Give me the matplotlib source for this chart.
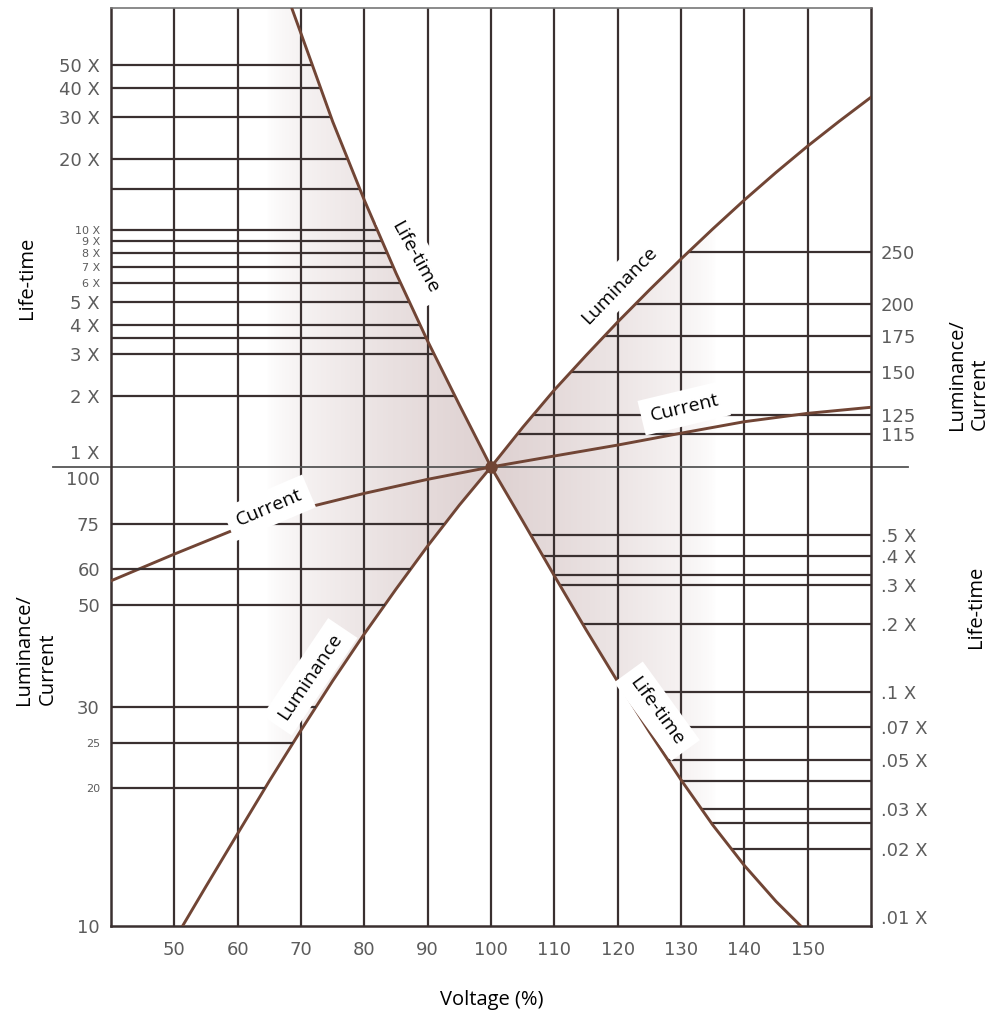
import numpy as np
import matplotlib
matplotlib.use("Agg")
import matplotlib.pyplot as plt
from matplotlib.ticker import NullLocator

# ======= values ===========================
volt_grid = [50, 60, 70, 80, 90, 100, 110, 120, 130, 140, 150]
volt_labels = [str(v) for v in volt_grid]

# life-time (x rated life) vs voltage (%)
life_volt = [68.6, 70, 75, 80, 85, 90, 95, 100,
             105, 110, 115, 120, 125, 130, 135, 140, 145, 148.9]
life_val = [86, 67.8, 28.8, 13.4, 6.59, 3.40, 1.83, 1.0,
            0.575, 0.328, 0.189, 0.111, 0.0664, 0.0406, 0.0256, 0.0169, 0.0117, 0.0091]

# luminance (%) vs voltage (%)
lum_volt = [51.3, 55, 60, 65, 70, 75, 80, 85, 90, 95, 100,
            105, 110, 115, 120, 125, 130, 135, 140, 145, 150, 155, 160]
lum_val = [10, 12.2, 15.9, 20.7, 26.7, 34.2, 43.3, 54.2, 67.3, 82.6, 100,
           118.4, 138.9, 160.9, 185.6, 212.7, 242.8, 275.9, 312.2, 351.2, 393, 437, 484]

# current (%) vs voltage (%)
cur_volt = [40, 50, 60, 70, 80, 90, 100, 110, 120, 130, 140, 150, 160]
cur_val = [56.5, 64.6, 73.5, 81, 87.6, 94, 100, 104.8, 109.8, 115.5, 121.3, 125.7, 129]

# horizontal guide lines (they run from the axis edge to the curve)
life_hi_lines = [50, 40, 30, 20, 15, 10, 9, 8, 7, 6, 5, 4, 3.5, 3, 2]
life_lo_lines = [0.5, 0.4, 0.33, 0.3, 0.2, 0.1, 0.07, 0.05, 0.04, 0.03, 0.026, 0.02]
lum_hi_lines = [250, 200, 175, 150, 125, 115]
lum_lo_lines = [75, 60, 50, 30, 25, 20]

# labelled ticks
life_hi_ticks = [50, 40, 30, 20, 10, 9, 8, 7, 6, 5, 4, 3, 2]
life_hi_labels = ["50 X", "40 X", "30 X", "20 X", "10 X", "9 X", "8 X", "7 X", "6 X",
                  "5 X", "4 X", "3 X", "2 X"]
life_lo_ticks = [0.5, 0.4, 0.3, 0.2, 0.1, 0.07, 0.05, 0.03, 0.02, 0.01]
life_lo_labels = [".5 X", ".4 X", ".3 X", ".2 X", ".1 X", ".07 X", ".05 X", ".03 X", ".02 X", ".01 X"]
lum_hi_ticks = [250, 200, 175, 150, 125, 115]
lum_lo_ticks = [75, 60, 50, 30, 25, 20, 10]
small_life = {"10 X", "9 X", "8 X", "7 X", "6 X"}
small_lum = {"25", "20"}


# ======= split log scale: decade length differs above / below the 100 % line ========
def split_log(bot, mid, top):
    lb, lm, lt = np.log10(bot), np.log10(mid), np.log10(top)

    def fwd(v):
        with np.errstate(divide="ignore", invalid="ignore"):
            l = np.log10(np.asarray(v, dtype=float))
        return np.where(l >= lm, (l - lm) / (lt - lm), (l - lm) / (lm - lb))

    def inv(t):
        t = np.asarray(t, dtype=float)
        return 10 ** np.where(t >= 0, lm + t * (lt - lm), lm + t * (lm - lb))

    return fwd, inv


LIFE_LIM = (0.0091, 1.0, 87.0)
LUM_LIM = (10.0, 100.0, 708.0)
life_scale = split_log(*LIFE_LIM)
lum_scale = split_log(*LUM_LIM)


def volt_at(value, volts, vals):
    lv = np.log10(vals)
    order = np.argsort(lv)
    return np.interp(np.log10(value), lv[order], np.asarray(volts)[order])


line_col = "#3a3030"
curve_col = "#714535"
tick_col = "#5c5c5c"
title_font = "Open Sans"

fig = plt.figure(figsize=(9.93, 10.11), dpi=100)
ax = fig.add_axes([0.1118, 0.0841, 0.7654, 0.908])
ax_lo = ax.twinx()
ax_lum = ax.twinx()
ax_lum_l = ax.twinx()

for a, sc, lim in [(ax, life_scale, LIFE_LIM), (ax_lo, life_scale, LIFE_LIM),
                   (ax_lum, lum_scale, LUM_LIM), (ax_lum_l, lum_scale, LUM_LIM)]:
    a.set_yscale("function", functions=sc)
    a.set_xlim(40, 160)
    a.set_ylim(lim[0], lim[2])
    a.yaxis.set_minor_locator(NullLocator())
    a.tick_params(length=0, labelsize=13, labelcolor=tick_col)
    for s in a.spines.values():
        s.set_visible(False)

# ---- shaded wedges between each curve and the 100 % line, fading sideways ----
n = 600
U, W = np.meshgrid(np.linspace(0, 1, n), np.linspace(0, 1, n))
x0, x1 = ax.get_xlim()
V = x0 + (x1 - x0) * U
t = 2 * W - 1
life_g = life_scale[1](t)
lum_g = lum_scale[1](t)
life_c = 10 ** np.interp(V, life_volt, np.log10(life_val), left=10, right=-10)
lum_c = 10 ** np.interp(V, lum_volt, np.log10(lum_val), left=-10, right=10)
up, lo, lft, rgt = t > 0, t < 0, V < 100, V > 100
mask = ((lft & up & (life_g <= life_c)) | (rgt & lo & (life_g >= life_c)) |
        (rgt & up & (lum_g <= lum_c)) | (lft & lo & (lum_g >= lum_c)))
cu = (100 - x0) / (x1 - x0)
dx = np.abs(U - cu) * ax.bbox.width
img = np.zeros((n, n, 4))
img[..., :3] = np.array([0.78, 0.69, 0.69])
img[..., 3] = 0.58 * np.clip(1 - dx / 225, 0, 1) ** 0.7 * mask
ax.imshow(img, extent=(0, 1, 0, 1), transform=ax.transAxes, origin="lower",
          aspect="auto", interpolation="bilinear", zorder=0)
ax.set_xlim(40, 160)
ax.set_ylim(LIFE_LIM[0], LIFE_LIM[2])

# ---- grid ----
for v in volt_grid:
    ax.axvline(v, color=line_col, lw=1.6, zorder=1)
ax.hlines(life_hi_lines, 40, volt_at(life_hi_lines, life_volt, life_val), color=line_col, lw=1.6, zorder=1)
ax.hlines(life_lo_lines, volt_at(life_lo_lines, life_volt, life_val), 160, color=line_col, lw=1.6, zorder=1)
ax_lum.hlines(lum_hi_lines, volt_at(lum_hi_lines, lum_volt, lum_val), 160, color=line_col, lw=1.6)
ax_lum_l.hlines(lum_lo_lines, 40, volt_at(lum_lo_lines, lum_volt, lum_val), color=line_col, lw=1.6)
ax.axhline(1, xmin=-0.076, xmax=1.049, clip_on=False, color="#555555", lw=1.3, zorder=2)

for side in ["left", "bottom", "right"]:
    ax.spines[side].set_visible(True)
    ax.spines[side].set_color(line_col)
    ax.spines[side].set_linewidth(1.8)
ax.spines["top"].set_visible(True)
ax.spines["top"].set_color("#777777")
ax.spines["top"].set_linewidth(1.2)

# ---- curves ----
ax.plot(life_volt, life_val, color=curve_col, lw=2.1, zorder=3, solid_joinstyle="round")
ax_lum.plot(lum_volt, lum_val, color=curve_col, lw=2.1, solid_joinstyle="round")
ax_lum.plot(cur_volt, cur_val, color=curve_col, lw=2.1, solid_joinstyle="round")
ax.plot([100], [1], "o", ms=8, color=curve_col, zorder=4)

# ---- ticks ----
ax.set_xticks(volt_grid, volt_labels)
ax.tick_params(axis="x", pad=11)
ax.set_yticks(life_hi_ticks, life_hi_labels)
ax.tick_params(axis="y", pad=8)
ax_lo.set_yticks(life_lo_ticks, life_lo_labels)
ax_lo.tick_params(axis="y", pad=7)
ax_lum.set_yticks(lum_hi_ticks, [str(v) for v in lum_hi_ticks])
ax_lum.tick_params(axis="y", pad=7)
ax_lum_l.yaxis.tick_left()
ax_lum_l.set_yticks(lum_lo_ticks, [str(v) for v in lum_lo_ticks])
ax_lum_l.tick_params(axis="y", pad=8, length=0)
for lab in ax.get_yticklabels():
    if lab.get_text() in small_life:
        lab.set_fontsize(8)
for lab in ax_lum_l.get_yticklabels():
    if lab.get_text() in small_lum:
        lab.set_fontsize(8)

ytr = ax.get_yaxis_transform()
ax_lum_l.annotate("1 X", xy=(0, 1), xycoords=ytr, xytext=(-8, 3), textcoords="offset points",
                  ha="right", va="bottom", fontsize=13, color=tick_col)
ax_lum_l.annotate("100", xy=(0, 1), xycoords=ytr, xytext=(-8, -3), textcoords="offset points",
                  ha="right", va="top", fontsize=13, color=tick_col)

# ---- curve labels (white boxes) ----
box = dict(boxstyle="square,pad=0.45", fc="white", ec="none")
curve_labels = [
    ("Life-time", 88.0, 7.7, -61, ax),
    ("Life-time", 126.2, 0.082, -54, ax),
    ("Luminance", 120.2, 217, 46, ax_lum),
    ("Luminance", 71.4, 34.9, 56, ax_lum),
    ("Current", 130.5, 128.6, 13.5, ax_lum),
    ("Current", 64.9, 81.4, 23, ax_lum),
]
for txt, xv, yv, rot, src in curve_labels:
    ax_lum_l.text(xv, yv, txt, transform=src.transData, rotation=rot, rotation_mode="anchor",
                  ha="center", va="center", fontsize=14, family=title_font, bbox=box, zorder=10)

# ---- axis titles ----
at = ax.transAxes
ax_lum_l.text(-0.11, 0.706, "Life-time", transform=at, rotation=90, ha="center", va="center",
              fontsize=14.5, family=title_font)
ax_lum_l.text(-0.099, 0.241, "Luminance/\nCurrent", transform=at, rotation=90, ha="center",
              va="bottom", multialignment="left", fontsize=14.5, family=title_font, linespacing=1.2)
ax_lum_l.text(1.128, 0.540, "Luminance/\nCurrent", transform=at, rotation=90, ha="center",
              va="bottom", multialignment="left", fontsize=14.5, family=title_font, linespacing=1.2)
ax_lum_l.text(1.138, 0.3475, "Life-time", transform=at, rotation=90, ha="center", va="center",
              fontsize=14.5, family=title_font)
ax_lum_l.text(0.501, -0.081, "Voltage (%)", transform=at, ha="center", va="center",
              fontsize=14.5, family=title_font)

fig.savefig("out.png", dpi=100)
